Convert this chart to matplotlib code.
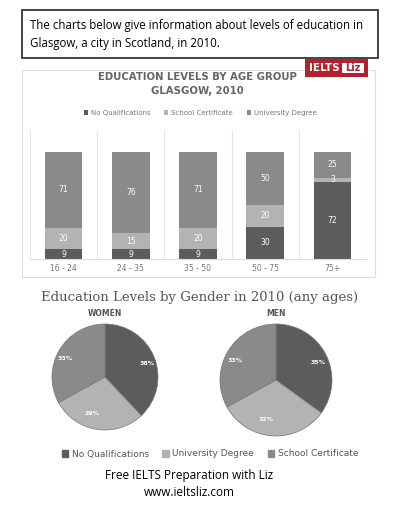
import matplotlib.pyplot as plt
from matplotlib.patches import Rectangle

ages = ['16-24', '24-35', '35-50', '50-75', '75+']
no_qual = [9, 9, 9, 30, 72]
school = [20, 15, 20, 20, 3]
univ = [71, 76, 71, 50, 25]

pie_labels = ['No Qualifications', 'University Degree', 'School Certificate']
women = [38, 29, 33]
men = [35, 32, 33]

c_dark, c_light, c_mid = '#5c5c5c', '#b3b3b3', '#8a8a8a'
W, H = 414, 512

fig = plt.figure(figsize=(4.14, 5.12), dpi=100)

def box(x, y, w, h):
    return [x / W, 1 - (y + h) / H, w / W, h / H]

# top text box
fig.patches.append(Rectangle((22 / W, 1 - 58 / H), 356 / W, 48 / H, transform=fig.transFigure,
                             fill=False, edgecolor='#222222', linewidth=1.2))
fig.text(30 / W, 1 - 34 / H, 'The charts below give information about levels of education in\nGlasgow, a city in Scotland, in 2010.',
         fontsize=8.3, family='Open Sans', va='center', linespacing=1.5)

# bar panel frame
fig.patches.append(Rectangle((22 / W, 1 - 277 / H), 353 / W, 207 / H, transform=fig.transFigure,
                             fill=False, edgecolor='#dddddd', linewidth=0.8))
fig.text(197 / W, 1 - 84 / H, 'EDUCATION LEVELS BY AGE GROUP\nGLASGOW, 2010',
         ha='center', va='center', fontsize=7.3, fontweight='bold', color='#666666', linespacing=1.4)

# logo
fig.patches.append(Rectangle((305 / W, 1 - 77 / H), 63 / W, 18 / H, transform=fig.transFigure,
                             facecolor='#b5202e', edgecolor='none', zorder=5))
fig.patches.append(Rectangle((342 / W, 1 - 73 / H), 22 / W, 10 / H, transform=fig.transFigure,
                             facecolor='white', edgecolor='none', zorder=6))
fig.text(324 / W, 1 - 68 / H, 'IELTS', color='white', fontsize=7.5, fontweight='bold', ha='center', va='center', zorder=7)
fig.text(353 / W, 1 - 68 / H, 'Liz', color='#b5202e', fontsize=7, fontweight='bold', ha='center', va='center', zorder=7)

ax = fig.add_axes(box(30, 130, 336, 129))
x = range(len(ages))
b1 = ax.bar(x, no_qual, width=0.56, color=c_dark, label='No Qualifications')
b2 = ax.bar(x, school, bottom=no_qual, width=0.56, color=c_light, label='School Certificate')
bot = [a + b for a, b in zip(no_qual, school)]
b3 = ax.bar(x, univ, bottom=bot, width=0.56, color=c_mid, label='University Degree')
for bars, vals, bots in [(b1, no_qual, [0] * 5), (b2, school, no_qual), (b3, univ, bot)]:
    for i, v in enumerate(vals):
        ax.text(i, bots[i] + v / 2, str(v), ha='center', va='center', color='white', fontsize=5.5)
ax.set_xlim(-0.5, 4.5)
ax.set_ylim(0, 120)
for i in range(6):
    ax.axvline(i - 0.5, color='#e6e6e6', linewidth=0.8)
ax.set_yticks([])
ax.set_xticks(list(x))
ax.set_xticklabels([' - '.join(a.split('-')) if '-' in a else a for a in ages], fontsize=5.5, color='#777777')
ax.tick_params(length=0)
for s in ['top', 'left', 'right']:
    ax.spines[s].set_visible(False)
ax.spines['bottom'].set_color('#dddddd')
fig.legend(handles=[b1, b2, b3], loc='center', bbox_to_anchor=(200 / W, 1 - 113 / H), ncol=3, frameon=False,
           fontsize=5, labelcolor='#777777', handlelength=0.6, handleheight=0.6, columnspacing=2, handletextpad=0.4)

# pies
fig.text(200 / W, 1 - 297 / H, 'Education Levels by Gender in 2010 (any ages)', ha='center', va='center',
         fontsize=9.5, family='DejaVu Serif', color='#555555')
cols = [c_dark, c_light, c_mid]
for data, name, cx, cy, r in [(women, 'WOMEN', 105, 377, 53), (men, 'MEN', 276, 380, 56)]:
    pax = fig.add_axes(box(cx - r, cy - r, 2 * r, 2 * r))
    wedges, texts = pax.pie(data, colors=cols, startangle=90, counterclock=False,
                            wedgeprops=dict(edgecolor='#777777', linewidth=0.5),
                            labels=[f'{v}%' for v in data], labeldistance=0.7,
                            textprops=dict(color='white', fontsize=4.5, fontweight='bold'))
    pax.set_xlim(-1, 1)
    pax.set_ylim(-1, 1)
    pax.set_aspect('equal')
    fig.text(cx / W, 1 - 313 / H, name, ha='center', va='center', fontsize=5.5, fontweight='bold', color='#555555')

handles = [Rectangle((0, 0), 1, 1, color=c) for c in cols]
fig.legend(handles, pie_labels, loc='center', bbox_to_anchor=(210 / W, 1 - 454 / H), ncol=3, frameon=False,
           fontsize=6.5, labelcolor='#555555', handlelength=0.7, handleheight=0.7, columnspacing=1.5, handletextpad=0.4)

fig.text(189 / W, 1 - 476 / H, 'Free IELTS Preparation with Liz', ha='center', va='center', fontsize=8.5, family='Open Sans')
fig.text(189 / W, 1 - 492 / H, 'www.ieltsliz.com', ha='center', va='center', fontsize=8.5, family='Open Sans')

fig.savefig('out.png', dpi=100, facecolor='white')
